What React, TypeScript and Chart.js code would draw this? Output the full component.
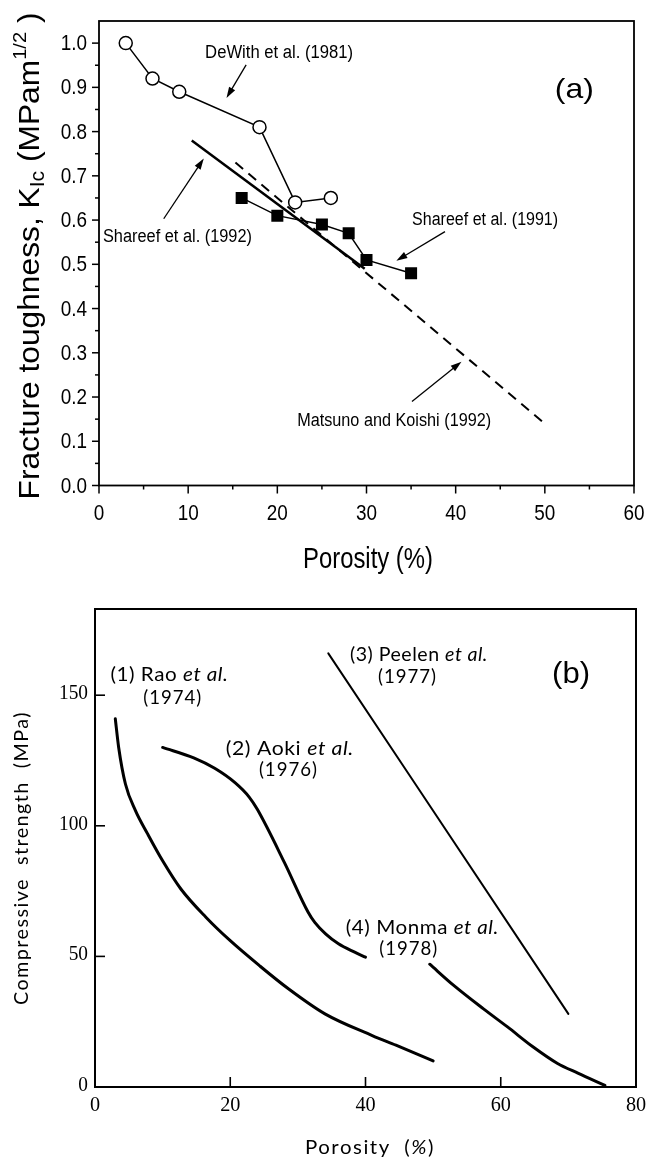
import React, { useEffect, useRef } from 'react';
import { Chart, registerables } from 'chart.js';

Chart.register(...registerables);

// ---------------- Panel (a): fracture toughness vs porosity ----------------
const deWithPorosity = [3, 6, 9, 18, 22, 26];
const deWithToughness = [1.0, 0.92, 0.89, 0.81, 0.64, 0.65];
const shareef1991Porosity = [16, 20, 25, 28, 30, 35];
const shareef1991Toughness = [0.65, 0.61, 0.59, 0.57, 0.51, 0.48];
const shareef1992Porosity = [10.4, 29.8];
const shareef1992Toughness = [0.78, 0.49];
const matsunoPorosity = [15.3, 49.7];
const matsunoToughness = [0.73, 0.145];
const aXTicks = [0, 10, 20, 30, 40, 50, 60];
const aXMinorTicks = [5, 15, 25, 35, 45, 55];
const aXTickLabels = ['0', '10', '20', '30', '40', '50', '60'];
const aYTicks = [0, 0.1, 0.2, 0.3, 0.4, 0.5, 0.6, 0.7, 0.8, 0.9, 1.0];
const aYMinorTicks = [0.05, 0.15, 0.25, 0.35, 0.45, 0.55, 0.65, 0.75, 0.85, 0.95];
const aYTickLabels = ['0.0', '0.1', '0.2', '0.3', '0.4', '0.5', '0.6', '0.7', '0.8', '0.9', '1.0'];

// ---------------- Panel (b): compressive strength vs porosity ----------------
const raoPorosity = [3, 3.5, 4.5, 6, 7.8, 10, 12.7, 16.4, 20, 24.3, 28.6, 34, 41, 44.5, 50];
const raoStrength = [141, 130, 116, 105.7, 96.8, 86.6, 75.8, 65, 56, 46.5, 37.6, 28, 19.7, 16, 10];
const aokiPorosity = [10, 14.6, 17.7, 20.7, 22.8, 24, 28, 31.5, 32.5, 34.1, 36, 38.4, 40];
const aokiStrength = [130, 126, 122, 116.5, 111, 106.3, 86, 67, 63, 58.6, 54.8, 51.6, 49.7];
const peelenPorosity = [34.5, 70];
const peelenStrength = [166, 28];
const monmaPorosity = [49.5, 53, 57.4, 61, 64.7, 68.4, 71.4, 75.4];
const monmaStrength = [47, 39, 30, 23, 15.5, 9, 5.3, 0.6];
const bXTicks = [0, 20, 40, 60, 80];
const bXTickLabels = ['0', '20', '40', '60', '80'];
const bYTicks = [0, 50, 100, 150];
const bYTickLabels = ['0', '50', '100', '150'];

const SANS_A = '"Liberation Sans", Arial, Helvetica, sans-serif';
const SERIF_B = '"Liberation Serif", "Times New Roman", serif';
const SANS_B = 'Lato, "Open Sans", sans-serif';

type Seg = { text: string; font: string; dy?: number };
type TextOpts = { align?: 'center' | 'left' | 'right'; width?: number; scale?: number; rotate?: number; spacing?: number };

function drawText(ctx: CanvasRenderingContext2D, segs: Seg[], x: number, y: number, opts: TextOpts = {}) {
  const { align = 'center', width, scale, rotate = 0, spacing = 0 } = opts;
  ctx.save();
  ctx.translate(x, y);
  if (rotate) ctx.rotate(rotate);
  ctx.textBaseline = 'middle';
  ctx.textAlign = 'left';
  ctx.fillStyle = '#000';
  (ctx as any).letterSpacing = spacing + 'px';
  let total = 0;
  const widths = segs.map((s) => {
    ctx.font = s.font;
    const w = ctx.measureText(s.text).width;
    total += w;
    return w;
  });
  const sx = width ? width / total : scale || 1;
  ctx.scale(sx, 1);
  let x0 = align === 'center' ? -total / 2 : align === 'right' ? -total : 0;
  segs.forEach((s, i) => {
    ctx.font = s.font;
    ctx.fillText(s.text, x0, s.dy || 0);
    x0 += widths[i];
  });
  ctx.restore();
}

function arrow(ctx: CanvasRenderingContext2D, x1: number, y1: number, x2: number, y2: number) {
  const ang = Math.atan2(y2 - y1, x2 - x1);
  const len = 11;
  const half = 3.5;
  ctx.save();
  ctx.strokeStyle = '#000';
  ctx.fillStyle = '#000';
  ctx.lineWidth = 1.3;
  ctx.beginPath();
  ctx.moveTo(x1, y1);
  ctx.lineTo(x2 - Math.cos(ang) * len * 0.8, y2 - Math.sin(ang) * len * 0.8);
  ctx.stroke();
  ctx.beginPath();
  ctx.moveTo(x2, y2);
  ctx.lineTo(x2 - Math.cos(ang) * len + Math.sin(ang) * half, y2 - Math.sin(ang) * len - Math.cos(ang) * half);
  ctx.lineTo(x2 - Math.cos(ang) * len - Math.sin(ang) * half, y2 - Math.sin(ang) * len + Math.cos(ang) * half);
  ctx.closePath();
  ctx.fill();
  ctx.restore();
}

function line(ctx: CanvasRenderingContext2D, x1: number, y1: number, x2: number, y2: number) {
  ctx.beginPath();
  ctx.moveTo(x1, y1);
  ctx.lineTo(x2, y2);
  ctx.stroke();
}

const pts = (xs: number[], ys: number[]) => xs.map((x, i) => ({ x, y: ys[i] }));

// annotation placement (data coordinates)
const aNotes = [
  { text: 'DeWith et al. (1981)', x: 20.2, y: 0.977, w: 148, tail: [16.5, 0.951], head: [14.3, 0.876] },
  { text: 'Shareef et al. (1992)', x: 8.8, y: 0.561, w: 149, tail: [7.26, 0.603], head: [11.75, 0.739] },
  { text: 'Shareef et al. (1991)', x: 43.3, y: 0.6, w: 146, tail: [38.8, 0.574], head: [33.35, 0.508] },
  { text: 'Matsuno and Koishi (1992)', x: 33.1, y: 0.146, w: 194, tail: [35.1, 0.19], head: [40.65, 0.28] },
];

const bNotes = [
  { lead: '(1) Rao ', year: '(1974)', x1: 11.0, y1: 157.7, w1: 118, x2: 11.5, y2: 148.9 },
  { lead: '(2) Aoki ', year: '(1976)', x1: 28.8, y1: 129.4, w1: 128, x2: 28.6, y2: 121.4 },
  { lead: '(3) Peelen ', year: '(1977)', x1: 47.9, y1: 165.4, w1: 138, x2: 46.2, y2: 157.0 },
  { lead: '(4) Monma ', year: '(1978)', x1: 48.4, y1: 60.9, w1: 153, x2: 46.4, y2: 52.8 },
];

const panelAPlugin = {
  id: 'panelA',
  afterDraw(chart: any) {
    const { ctx, chartArea: ca } = chart;
    const xs = chart.scales.x;
    const ys = chart.scales.y;
    ctx.save();
    ctx.strokeStyle = '#000';
    ctx.lineWidth = 1.8;
    ctx.strokeRect(ca.left, ca.top, ca.right - ca.left, ca.bottom - ca.top);
    ctx.lineWidth = 1.5;
    aXTicks.forEach((v) => { const p = xs.getPixelForValue(v); line(ctx, p, ca.bottom, p, ca.bottom + 8); });
    aXMinorTicks.forEach((v) => { const p = xs.getPixelForValue(v); line(ctx, p, ca.bottom, p, ca.bottom + 4); });
    aYTicks.forEach((v) => { const p = ys.getPixelForValue(v); line(ctx, ca.left - 7, p, ca.left, p); });
    aYMinorTicks.forEach((v) => { const p = ys.getPixelForValue(v); line(ctx, ca.left - 4, p, ca.left, p); });
    ctx.restore();

    aXTicks.forEach((v, i) => {
      drawText(ctx, [{ text: aXTickLabels[i], font: `22px ${SANS_A}` }], xs.getPixelForValue(v), ca.bottom + 28, { scale: 0.86 });
    });
    aYTicks.forEach((v, i) => {
      drawText(ctx, [{ text: aYTickLabels[i], font: `22px ${SANS_A}` }], ca.left - 12, ys.getPixelForValue(v) + 1, { scale: 0.86, align: 'right' });
    });

    drawText(ctx, [{ text: 'Porosity (%)', font: `29px ${SANS_A}` }], 368, 560, { width: 130 });
    drawText(
      ctx,
      [
        { text: 'Fracture toughness, K', font: `30px ${SANS_A}` },
        { text: 'Ic', font: `20px ${SANS_A}`, dy: 7 },
        { text: ' (MPam', font: `30px ${SANS_A}` },
        { text: '1/2', font: `19px ${SANS_A}`, dy: -10 },
        { text: ' )', font: `30px ${SANS_A}` },
      ],
      31,
      256,
      { width: 487, rotate: -Math.PI / 2 }
    );

    aNotes.forEach((n) => {
      drawText(ctx, [{ text: n.text, font: `18px ${SANS_A}` }], xs.getPixelForValue(n.x), ys.getPixelForValue(n.y), { width: n.w });
      arrow(ctx, xs.getPixelForValue(n.tail[0]), ys.getPixelForValue(n.tail[1]), xs.getPixelForValue(n.head[0]), ys.getPixelForValue(n.head[1]));
    });
    drawText(ctx, [{ text: '(a)', font: `28px ${SANS_A}` }], xs.getPixelForValue(53.3), ys.getPixelForValue(0.894), { width: 39 });
  },
};

const panelBPlugin = {
  id: 'panelB',
  afterDraw(chart: any) {
    const { ctx, chartArea: ca } = chart;
    const xs = chart.scales.x;
    const ys = chart.scales.y;
    ctx.save();
    ctx.strokeStyle = '#000';
    ctx.lineWidth = 2;
    ctx.strokeRect(ca.left, ca.top, ca.right - ca.left, ca.bottom - ca.top);
    ctx.lineWidth = 1.6;
    bXTicks.slice(1, -1).forEach((v) => { const p = xs.getPixelForValue(v); line(ctx, p, ca.bottom, p, ca.bottom - 10); });
    bYTicks.slice(1).forEach((v) => { const p = ys.getPixelForValue(v); line(ctx, ca.left, p, ca.left + 10, p); });
    ctx.restore();

    bXTicks.forEach((v, i) => {
      drawText(ctx, [{ text: bXTickLabels[i], font: `22px ${SERIF_B}` }], xs.getPixelForValue(v), ca.bottom + 18, { scale: 0.92 });
    });
    bYTicks.forEach((v, i) => {
      drawText(ctx, [{ text: bYTickLabels[i], font: `22px ${SERIF_B}` }], ca.left - 7, ys.getPixelForValue(v) - 2, { scale: 0.88, align: 'right' });
    });

    drawText(
      ctx,
      [
        { text: 'Porosity  (', font: `20px ${SANS_B}` },
        { text: '%', font: `italic 20px ${SANS_B}` },
        { text: ')', font: `20px ${SANS_B}` },
      ],
      370,
      558,
      { width: 130, spacing: 1.5 }
    );
    drawText(ctx, [{ text: 'Compressive  strength  (MPa)', font: `20px ${SANS_B}` }], 22, 268, { width: 294, rotate: -Math.PI / 2, spacing: 1.5 });

    bNotes.forEach((n) => {
      drawText(
        ctx,
        [
          { text: n.lead, font: `19px ${SANS_B}` },
          { text: 'et al.', font: `italic 19px ${SANS_B}` },
        ],
        xs.getPixelForValue(n.x1),
        ys.getPixelForValue(n.y1),
        { width: n.w1, spacing: 0.5 }
      );
      drawText(ctx, [{ text: n.year, font: `19px ${SANS_B}` }], xs.getPixelForValue(n.x2), ys.getPixelForValue(n.y2), { width: 59, spacing: 1 });
    });
    drawText(ctx, [{ text: '(b)', font: `30px ${SANS_A}` }], xs.getPixelForValue(70.4), ys.getPixelForValue(157.7), { width: 38 });
  },
};

function makePanelA(canvas: HTMLCanvasElement) {
  return new Chart(canvas, {
    type: 'line',
    data: {
      datasets: [
        {
          label: 'DeWith et al. (1981)',
          data: pts(deWithPorosity, deWithToughness),
          borderColor: '#000',
          borderWidth: 1.5,
          pointStyle: 'circle',
          pointRadius: 6.5,
          pointBackgroundColor: '#fff',
          pointBorderColor: '#000',
          pointBorderWidth: 1.5,
        },
        {
          label: 'Shareef et al. (1991)',
          data: pts(shareef1991Porosity, shareef1991Toughness),
          borderColor: '#000',
          borderWidth: 1.5,
          pointStyle: 'rect',
          pointRadius: 8.5,
          pointBackgroundColor: '#000',
          pointBorderColor: '#000',
          pointBorderWidth: 0,
        },
        {
          label: 'Shareef et al. (1992)',
          data: pts(shareef1992Porosity, shareef1992Toughness),
          borderColor: '#000',
          borderWidth: 2.5,
          pointRadius: 0,
        },
        {
          label: 'Matsuno and Koishi (1992)',
          data: pts(matsunoPorosity, matsunoToughness),
          borderColor: '#000',
          borderWidth: 2,
          borderDash: [10, 7],
          pointRadius: 0,
        },
      ],
    },
    options: {
      animation: false,
      responsive: false,
      devicePixelRatio: 1,
      layout: { padding: { left: 99, top: 21, right: 13, bottom: 104.5 } },
      scales: {
        x: { type: 'linear', min: 0, max: 60, display: false },
        y: { type: 'linear', min: 0, max: 1.05, display: false },
      },
      plugins: { legend: { display: false }, tooltip: { enabled: false } },
    },
    plugins: [panelAPlugin],
  } as any);
}

function makePanelB(canvas: HTMLCanvasElement) {
  const curve = (label: string, xs: number[], ys: number[], w: number) => ({
    label,
    data: pts(xs, ys),
    borderColor: '#000',
    borderWidth: w,
    pointRadius: 0,
    cubicInterpolationMode: 'monotone',
    borderCapStyle: 'round',
    borderJoinStyle: 'round',
  });
  return new Chart(canvas, {
    type: 'line',
    data: {
      datasets: [
        curve('(1) Rao et al. (1974)', raoPorosity, raoStrength, 3),
        curve('(2) Aoki et al. (1976)', aokiPorosity, aokiStrength, 3),
        curve('(3) Peelen et al. (1977)', peelenPorosity, peelenStrength, 2),
        curve('(4) Monma et al. (1978)', monmaPorosity, monmaStrength, 3),
      ],
    },
    options: {
      animation: false,
      responsive: false,
      devicePixelRatio: 1,
      layout: { padding: { left: 95, top: 19, right: 11, bottom: 71 } },
      scales: {
        x: { type: 'linear', min: 0, max: 80, display: false },
        y: { type: 'linear', min: 0, max: 183, display: false },
      },
      plugins: { legend: { display: false }, tooltip: { enabled: false } },
    },
    plugins: [panelBPlugin],
  } as any);
}

export default function App() {
  const refA = useRef<HTMLCanvasElement>(null);
  const refB = useRef<HTMLCanvasElement>(null);
  useEffect(() => {
    document.body.style.margin = '0';
    document.body.style.overflow = 'hidden';
    const a = makePanelA(refA.current!);
    const b = makePanelB(refB.current!);
    return () => {
      a.destroy();
      b.destroy();
    };
  }, []);
  return (
    <div style={{ position: 'absolute', left: 0, top: 0, width: 647, height: 1158, background: '#fff' }}>
      <canvas ref={refA} width={647} height={590} style={{ position: 'absolute', left: 0, top: 0, width: 647, height: 590 }} />
      <canvas ref={refB} width={647} height={568} style={{ position: 'absolute', left: 0, top: 590, width: 647, height: 568 }} />
    </div>
  );
}
